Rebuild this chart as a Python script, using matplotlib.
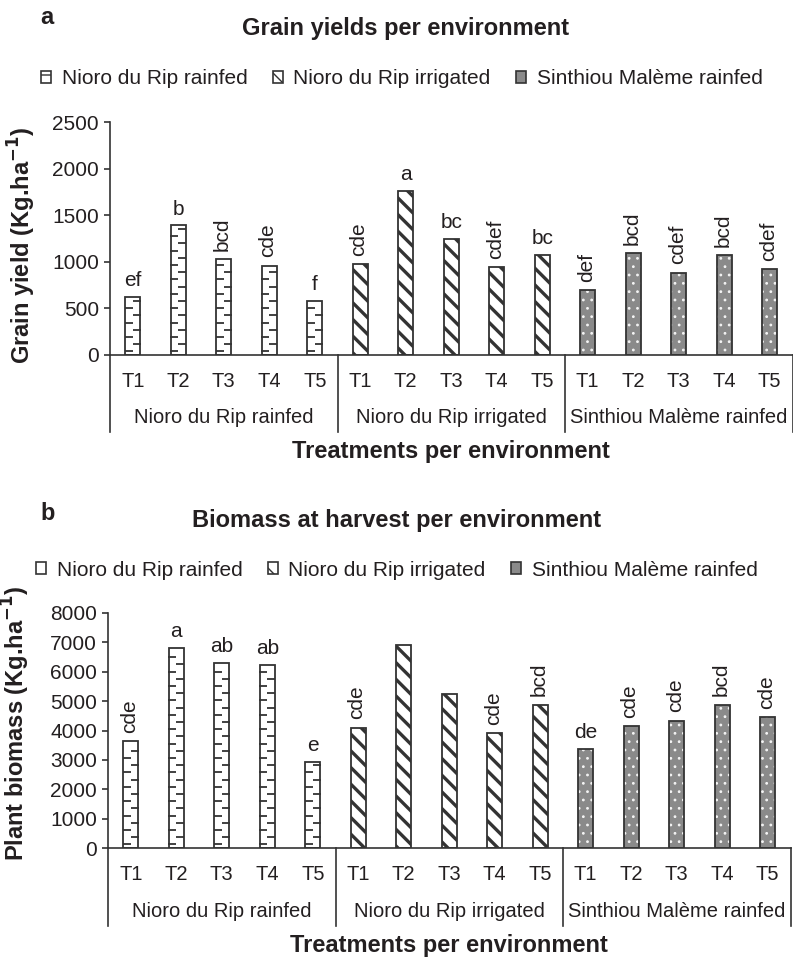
import numpy as np
import matplotlib
matplotlib.use("Agg")
import matplotlib.pyplot as plt
from matplotlib.patches import Patch

plt.rcParams['font.family'] = ['Liberation Sans', 'DejaVu Sans']
plt.rcParams['hatch.linewidth'] = 1.0

# data
environments = ["Nioro du Rip rainfed", "Nioro du Rip irrigated", "Sinthiou Malème rainfed"]
treatments = ["T1", "T2", "T3", "T4", "T5"]

grain_yield = [
    [620, 1390, 1030, 960, 580],
    [975, 1760, 1240, 940, 1070],
    [695, 1090, 885, 1070, 920],
]
grain_letters = [
    ["ef", "b", "bcd", "cde", "f"],
    ["cde", "a", "bc", "cdef", "bc"],
    ["def", "bcd", "cdef", "bcd", "cdef"],
]

biomass = [
    [3630, 6800, 6290, 6220, 2920],
    [4100, 6920, 5240, 3920, 4880],
    [3370, 4150, 4340, 4880, 4450],
]
biomass_letters = [
    ["cde", "a", "ab", "ab", "e"],
    ["cde", "", "", "cde", "bcd"],
    ["de", "cde", "cde", "bcd", "cde"],
]

txt = '#231f20'
edge = '#333333'
grey = '#8a8a8a'
fs = 15      # tick labels, legend, letters
fs_cat = 14.5
fs_bold = 17


def dashes(ax, x, v, width, step):
    # short dashes glued alternately to the left and right side of a bar
    ys = np.arange(step / 2, v - step / 3, step)
    left = ys[0::2]
    right = ys[1::2]
    ax.plot(np.full(len(left), x - width / 4), left, ls='none', marker='_',
            ms=5.5, mew=1.3, color=edge, zorder=3)
    ax.plot(np.full(len(right), x + width / 4), right, ls='none', marker='_',
            ms=5.5, mew=1.3, color=edge, zorder=3)


def draw_panel(ax, values, letters, ymax, ystep, ylabel, ylab_x, ylab_y):
    n = len(treatments)
    width = 0.33
    px_h = ax.get_position().height * fig.get_figheight() * fig.dpi
    dash_step = 7.2 / px_h * ymax
    for g, env in enumerate(environments):
        x = np.arange(n) + g * n
        if g == 0:
            ax.bar(x, values[g], width, facecolor='white', edgecolor=edge,
                   linewidth=1.3, zorder=2)
            for xi, v in zip(x, values[g]):
                dashes(ax, xi, v, width, dash_step)
        elif g == 1:
            with plt.rc_context({'hatch.linewidth': 2.4}):
                ax.bar(x, values[g], width, facecolor='white', edgecolor=edge,
                       hatch='\\\\', linewidth=1.3, zorder=2)
        else:
            with plt.rc_context({'hatch.linewidth': 0.8}):
                ax.bar(x, values[g], width, facecolor=grey, edgecolor='#f4f4f4',
                       hatch='..', linewidth=0, zorder=2)
            ax.bar(x, values[g], width, facecolor='none', edgecolor=edge,
                   linewidth=1.3, zorder=3)
        for xi, v, lab in zip(x, values[g], letters[g]):
            if not lab:
                continue
            if len(lab) >= 3:
                ax.annotate(lab, (xi, v), xytext=(-1, 6), textcoords='offset points',
                            rotation=90, ha='center', va='bottom', fontsize=fs, color=txt)
            else:
                ax.annotate(lab, (xi, v), xytext=(0, 5), textcoords='offset points',
                            ha='center', va='bottom', fontsize=fs, color=txt)

    ax.set_xlim(-0.5, n * len(environments) - 0.5)
    ax.set_ylim(0, ymax)
    ax.set_yticks(np.arange(0, ymax + 1, ystep))
    ax.set_xticks(np.arange(n * len(environments)))
    ax.set_xticklabels(treatments * len(environments))
    ax.tick_params(axis='x', length=0, pad=12, labelsize=fs_cat, colors=txt)
    ax.tick_params(axis='y', length=4, width=1.2, pad=4, labelsize=fs, colors=txt, color=edge)
    for s in ['top', 'right']:
        ax.spines[s].set_visible(False)
    for s in ['left', 'bottom']:
        ax.spines[s].set_color(edge)
        ax.spines[s].set_linewidth(1.2)

    # category (environment) axis below the treatment labels
    trans = ax.get_xaxis_transform()
    for k in range(len(environments) + 1):
        xs = k * n - 0.5
        ax.plot([xs, xs], [0, -0.33], transform=trans, clip_on=False,
                color=edge, linewidth=1.2)
    for g, env in enumerate(environments):
        ax.text(g * n + (n - 1) / 2, -0.27, env, transform=trans, ha='center',
                va='center', fontsize=fs_cat, color=txt)

    ax.text(0.5, -0.415, "Treatments per environment", transform=ax.transAxes,
            ha='center', va='center', fontsize=fs_bold, fontweight='bold', color=txt)
    ax.set_ylabel(ylabel, fontsize=fs_bold, fontweight='bold', color=txt)
    ax.yaxis.set_label_coords(ylab_x, ylab_y)


def add_legend(fig, x, y):
    handles = [
        Patch(facecolor='white', edgecolor=edge, hatch='-', linewidth=1.2),
        Patch(facecolor='white', edgecolor=edge, hatch='\\\\', linewidth=1.2),
        Patch(facecolor=grey, edgecolor=edge, linewidth=1.2),
    ]
    fig.legend(handles, environments, loc='center left', bbox_to_anchor=(x, y),
               ncol=3, frameon=False, fontsize=fs, handlelength=0.5, handleheight=0.5,
               handletextpad=0.5, columnspacing=1.2, borderpad=0, borderaxespad=0,
               labelcolor=txt)


fig = plt.figure(figsize=(7.93, 9.59), dpi=100)

ax_a = fig.add_axes([110 / 793, 1 - 355 / 959, 682.5 / 793, 233 / 959])
draw_panel(ax_a, grain_yield, grain_letters, 2500, 500,
           "Grain yield (Kg.ha$^{\\mathbf{-1}}$)", -0.106, 0.47)
fig.text(40 / 793, 1 - 17 / 959, "a", fontsize=fs_bold, fontweight='bold', color=txt,
         ha='left', va='center')
fig.text(406 / 793, 1 - 28 / 959, "Grain yields per environment", fontsize=fs_bold,
         fontweight='bold', color=txt, ha='center', va='center')
add_legend(fig, 41 / 793, 1 - 79 / 959)

ax_b = fig.add_axes([108 / 793, 1 - 848 / 959, 682.5 / 793, 235 / 959])
draw_panel(ax_b, biomass, biomass_letters, 8000, 1000,
           "Plant biomass (Kg.ha$^{\\mathbf{-1}}$)", -0.112, 0.53)
fig.text(40 / 793, 1 - 513 / 959, "b", fontsize=fs_bold, fontweight='bold', color=txt,
         ha='left', va='center')
fig.text(397 / 793, 1 - 521 / 959, "Biomass at harvest per environment", fontsize=fs_bold,
         fontweight='bold', color=txt, ha='center', va='center')
add_legend(fig, 36 / 793, 1 - 570 / 959)

fig.savefig("out.png", dpi=100)
